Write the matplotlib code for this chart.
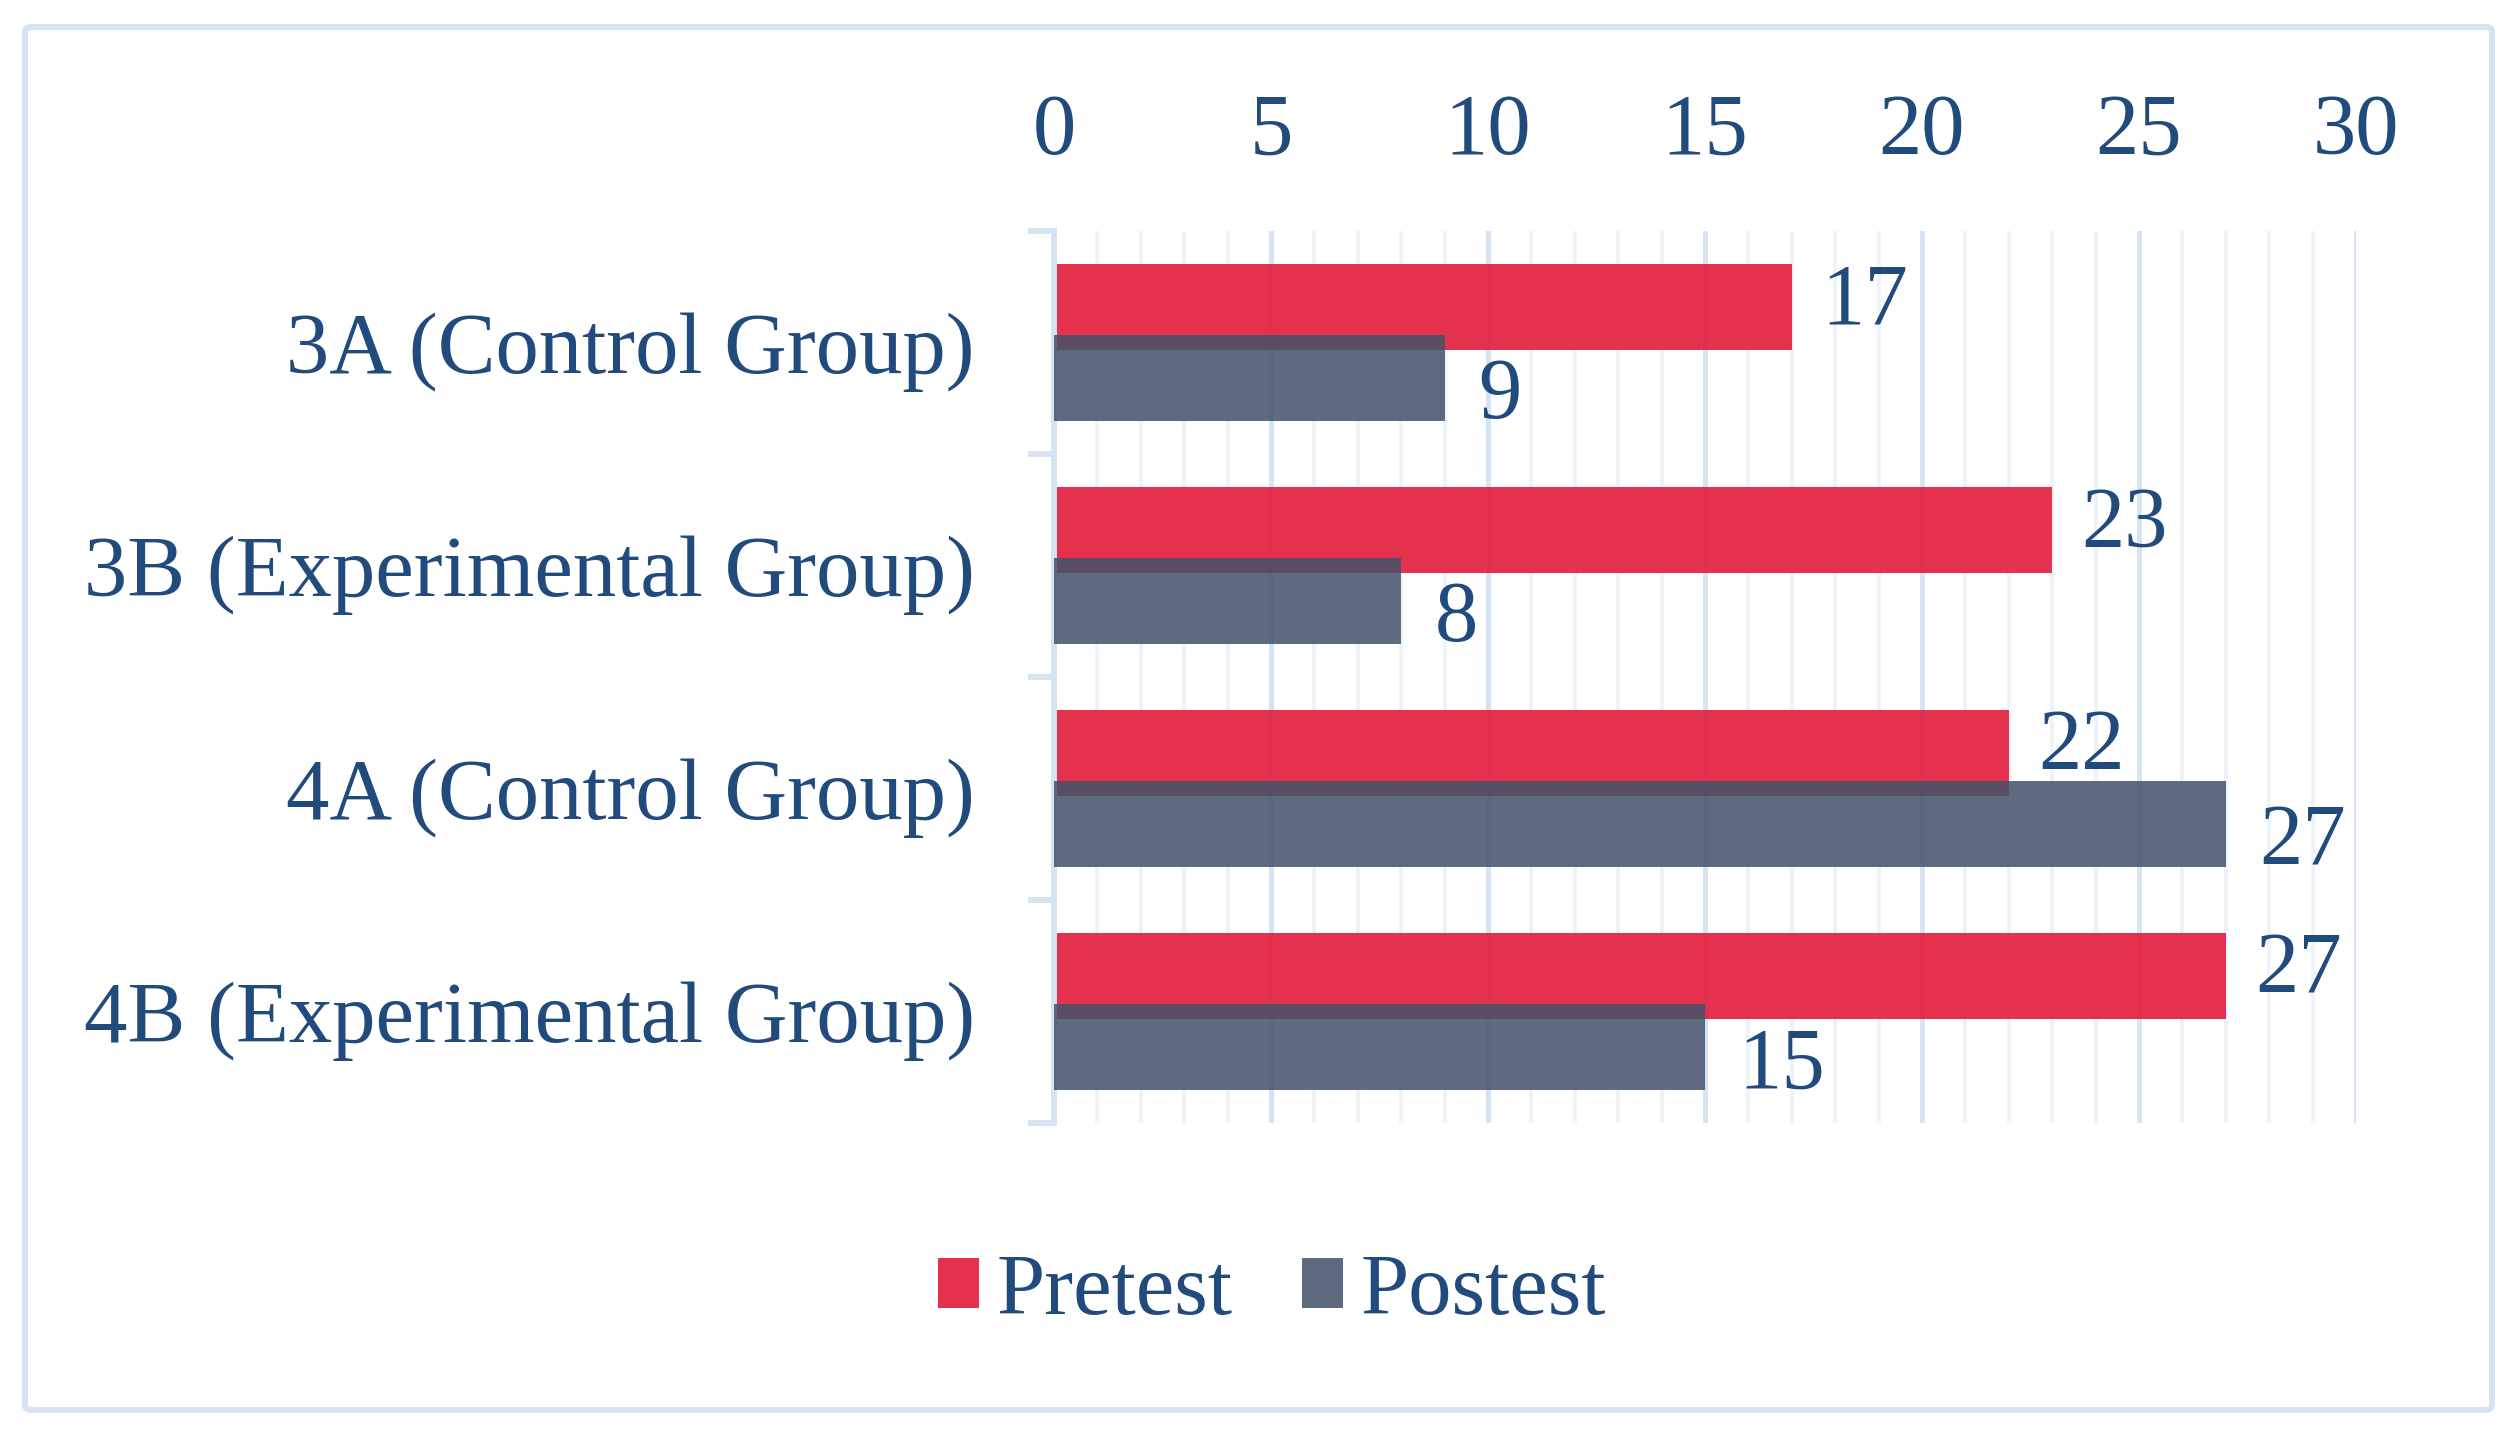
import numpy as np
import matplotlib
matplotlib.use("Agg")
import matplotlib.pyplot as plt
from matplotlib.patches import FancyBboxPatch

categories = ["3A (Control Group)", "3B (Experimental Group)",
              "4A (Control Group)", "4B (Experimental Group)"]
pretest = [17, 23, 22, 27]
postest = [9, 8, 27, 15]
series_names = ["Pretest", "Postest"]
x_ticks = [0, 5, 10, 15, 20, 25, 30]

TEXT = "#214A7D"
RED = "#E21C3B"
GRAY = "#43536A"
LIGHT = "#D5E3F3"
MINOR = "#EEF3FA"
FS = 62.5

plt.rcParams["font.family"] = ["Liberation Serif", "DejaVu Serif"]

W, H = 2520, 1437
fig = plt.figure(figsize=(W / 100, H / 100), dpi=100)

# chart border
border = FancyBboxPatch((25 / W, 1 - 1410 / H), (2492 - 25) / W, (1410 - 27) / H,
                        boxstyle="round,pad=0,rounding_size=0.003",
                        transform=fig.transFigure, fill=False,
                        ec=LIGHT, lw=4.3, zorder=0)
fig.patches.append(border)

left, right, top, bottom = 1054, 2356, 231, 1123
ax = fig.add_axes([left / W, 1 - bottom / H, (right - left) / W, (bottom - top) / H])

y = np.arange(len(categories))
bh = 0.386
off = 0.16

b1 = ax.barh(y - off, pretest, height=bh, color=RED, alpha=0.9, zorder=2, label=series_names[0])
b2 = ax.barh(y + off, postest, height=bh, color=GRAY, alpha=0.86, zorder=3, label=series_names[1])

for yi, v in zip(y, pretest):
    ax.annotate(str(v), (v, yi - off), xytext=(21, -12), textcoords="offset points",
                ha="left", va="baseline", fontsize=FS, color=TEXT, zorder=5)
for yi, v in zip(y, postest):
    ax.annotate(str(v), (v, yi + off), xytext=(24, -29), textcoords="offset points",
                ha="left", va="baseline", fontsize=FS, color=TEXT, zorder=5)

ax.set_xlim(x_ticks[0], x_ticks[-1])
ax.set_ylim(len(categories) - 0.5, -0.5)

ax.xaxis.tick_top()
ax.set_xticks(x_ticks)
ax.set_xticks(np.arange(x_ticks[0], x_ticks[-1] + 1, 1), minor=True)
ax.set_xticklabels([str(t) for t in x_ticks])
ax.tick_params(axis="x", which="both", length=0, pad=42, labelsize=FS, labelcolor=TEXT)

ax.set_yticks(y)
ax.set_yticklabels(categories)
ax.set_yticks(np.arange(-0.5, len(categories), 1), minor=True)
ax.tick_params(axis="y", which="major", length=0, pad=57, labelsize=FS, labelcolor=TEXT)
ax.tick_params(axis="y", which="minor", length=18.7, width=4.3, color=LIGHT, direction="out")

ax.grid(which="minor", axis="x", color=MINOR, lw=2.9, zorder=0)
ax.grid(which="major", axis="x", color=LIGHT, lw=3.6, zorder=1)
ax.grid(False, axis="y", which="both")
ax.set_axisbelow(True)

for s in ["top", "right", "bottom"]:
    ax.spines[s].set_visible(False)
ax.spines["left"].set_color(LIGHT)
ax.spines["left"].set_linewidth(4.3)

fig.legend(handles=[b1, b2], labels=series_names, loc="center",
           bbox_to_anchor=(1272 / W, 1 - 1293 / H), ncol=2, frameon=False,
           fontsize=FS, labelcolor=TEXT, handlelength=0.47, handleheight=0.52,
           handletextpad=0.2, columnspacing=0.8, borderpad=0)

fig.savefig("out.png", dpi=100)
